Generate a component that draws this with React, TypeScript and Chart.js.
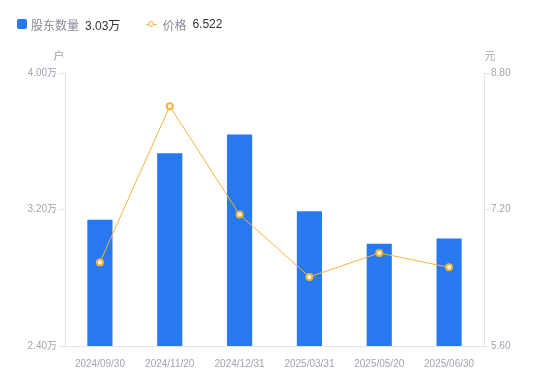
import React, { useEffect, useRef } from "react";
import { Chart, registerables } from "chart.js";

Chart.register(...registerables);

const categories = ["2024/09/30", "2024/11/20", "2024/12/31", "2025/03/31", "2025/05/20", "2025/06/30"];
const holders = [3.14, 3.53, 3.64, 3.19, 3.0, 3.03];
const prices = [6.58, 8.41, 7.14, 6.41, 6.69, 6.522];
const leftTicks = [2.4, 3.2, 4.0];
const rightTicks = [5.6, 7.2, 8.8];

const FONT = 'Arial, "Liberation Sans", "Noto Sans CJK SC", sans-serif';
const BLUE = "#2878f0";
const ORANGE = "#f7b23b";
const TICK_COLOR = "#a3a3b3";
const AXIS_COLOR = "#e3e3e8";

const unitPlugin = {
  id: "unitTitles",
  afterDraw(chart: any) {
    const { ctx, chartArea } = chart;
    ctx.save();
    ctx.font = `11px ${FONT}`;
    ctx.fillStyle = TICK_COLOR;
    ctx.textBaseline = "middle";
    ctx.textAlign = "center";
    ctx.fillText("户", chartArea.left - 6, chartArea.top - 16);
    ctx.fillText("元", chartArea.right + 6, chartArea.top - 16);
    ctx.restore();
  },
};

export default function App() {
  const ref = useRef<HTMLCanvasElement>(null);
  useEffect(() => {
    if (!ref.current) return;
    const chart = new Chart(ref.current, {
      type: "bar",
      data: {
        labels: categories,
        datasets: [
          {
            type: "line",
            label: "价格",
            data: prices,
            yAxisID: "y1",
            borderColor: ORANGE,
            borderWidth: 1,
            pointRadius: 3,
            pointBorderWidth: 2,
            pointBackgroundColor: "#ffffff",
            pointBorderColor: ORANGE,
            tension: 0,
            order: 0,
          } as any,
          {
            type: "bar",
            label: "股东数量",
            data: holders,
            yAxisID: "y",
            backgroundColor: BLUE,
            barPercentage: 0.36,
            categoryPercentage: 1,
            order: 1,
          },
        ],
      },
      options: {
        animation: false,
        responsive: false,
        layout: { padding: { top: 73, left: 0, right: 0, bottom: 0 } },
        plugins: { legend: { display: false }, tooltip: { enabled: false } },
        scales: {
          x: {
            grid: { display: false },
            border: { display: true, color: AXIS_COLOR },
            ticks: { color: TICK_COLOR, font: { size: 10, family: FONT }, padding: 4, maxRotation: 0 },
            afterFit(s: any) {
              s.height = 35;
            },
          },
          y: {
            position: "left",
            min: 2.4,
            max: 4.0,
            afterBuildTicks(s: any) {
              s.ticks = leftTicks.map((v) => ({ value: v }));
            },
            grid: { drawOnChartArea: false, drawTicks: true, tickLength: 6, color: AXIS_COLOR },
            border: { display: true, color: AXIS_COLOR },
            ticks: {
              color: TICK_COLOR,
              font: { size: 10, family: FONT },
              padding: 2,
              callback: (v: any) => Number(v).toFixed(2) + "万",
            },
            afterFit(s: any) {
              s.width = 65;
            },
          },
          y1: {
            position: "right",
            min: 5.6,
            max: 8.8,
            afterBuildTicks(s: any) {
              s.ticks = rightTicks.map((v) => ({ value: v }));
            },
            grid: { drawOnChartArea: false, drawTicks: true, tickLength: 5, color: AXIS_COLOR },
            border: { display: true, color: AXIS_COLOR },
            ticks: {
              color: TICK_COLOR,
              font: { size: 10, family: FONT },
              padding: 2,
              callback: (v: any) => Number(v).toFixed(2),
            },
            afterFit(s: any) {
              s.width = 66;
            },
          },
        },
      },
      plugins: [unitPlugin],
    });
    return () => chart.destroy();
  }, []);

  const lastHolder = holders[holders.length - 1].toFixed(2) + "万";
  const lastPrice = prices[prices.length - 1].toFixed(3);

  return (
    <div style={{ position: "absolute", left: 0, top: 0, width: 550, height: 381, background: "#fff", fontFamily: FONT }}>
      <canvas ref={ref} width={550} height={381} style={{ position: "absolute", left: 0, top: 0 }} />
      <div style={{ position: "absolute", left: 17, top: 16, height: 16, display: "flex", alignItems: "center", fontSize: 12, whiteSpace: "nowrap" }}>
        <span style={{ display: "inline-block", width: 10, height: 10, borderRadius: 2, background: BLUE, marginRight: 4 }} />
        <span style={{ color: "#8a8a99" }}>股东数量</span>
        <span style={{ color: "#333", marginLeft: 6 }}>{lastHolder}</span>
        <span style={{ display: "inline-block", position: "relative", width: 11, height: 10, marginLeft: 26, marginRight: 5 }}>
          <span style={{ position: "absolute", left: 0, top: 4.5, width: 11, height: 1, background: ORANGE }} />
          <span style={{ position: "absolute", left: 2, top: 1.5, width: 4, height: 4, borderRadius: "50%", border: `1.5px solid ${ORANGE}`, background: "#fff" }} />
        </span>
        <span style={{ color: "#8a8a99" }}>价格</span>
        <span style={{ color: "#333", marginLeft: 6 }}>{lastPrice}</span>
      </div>
    </div>
  );
}
